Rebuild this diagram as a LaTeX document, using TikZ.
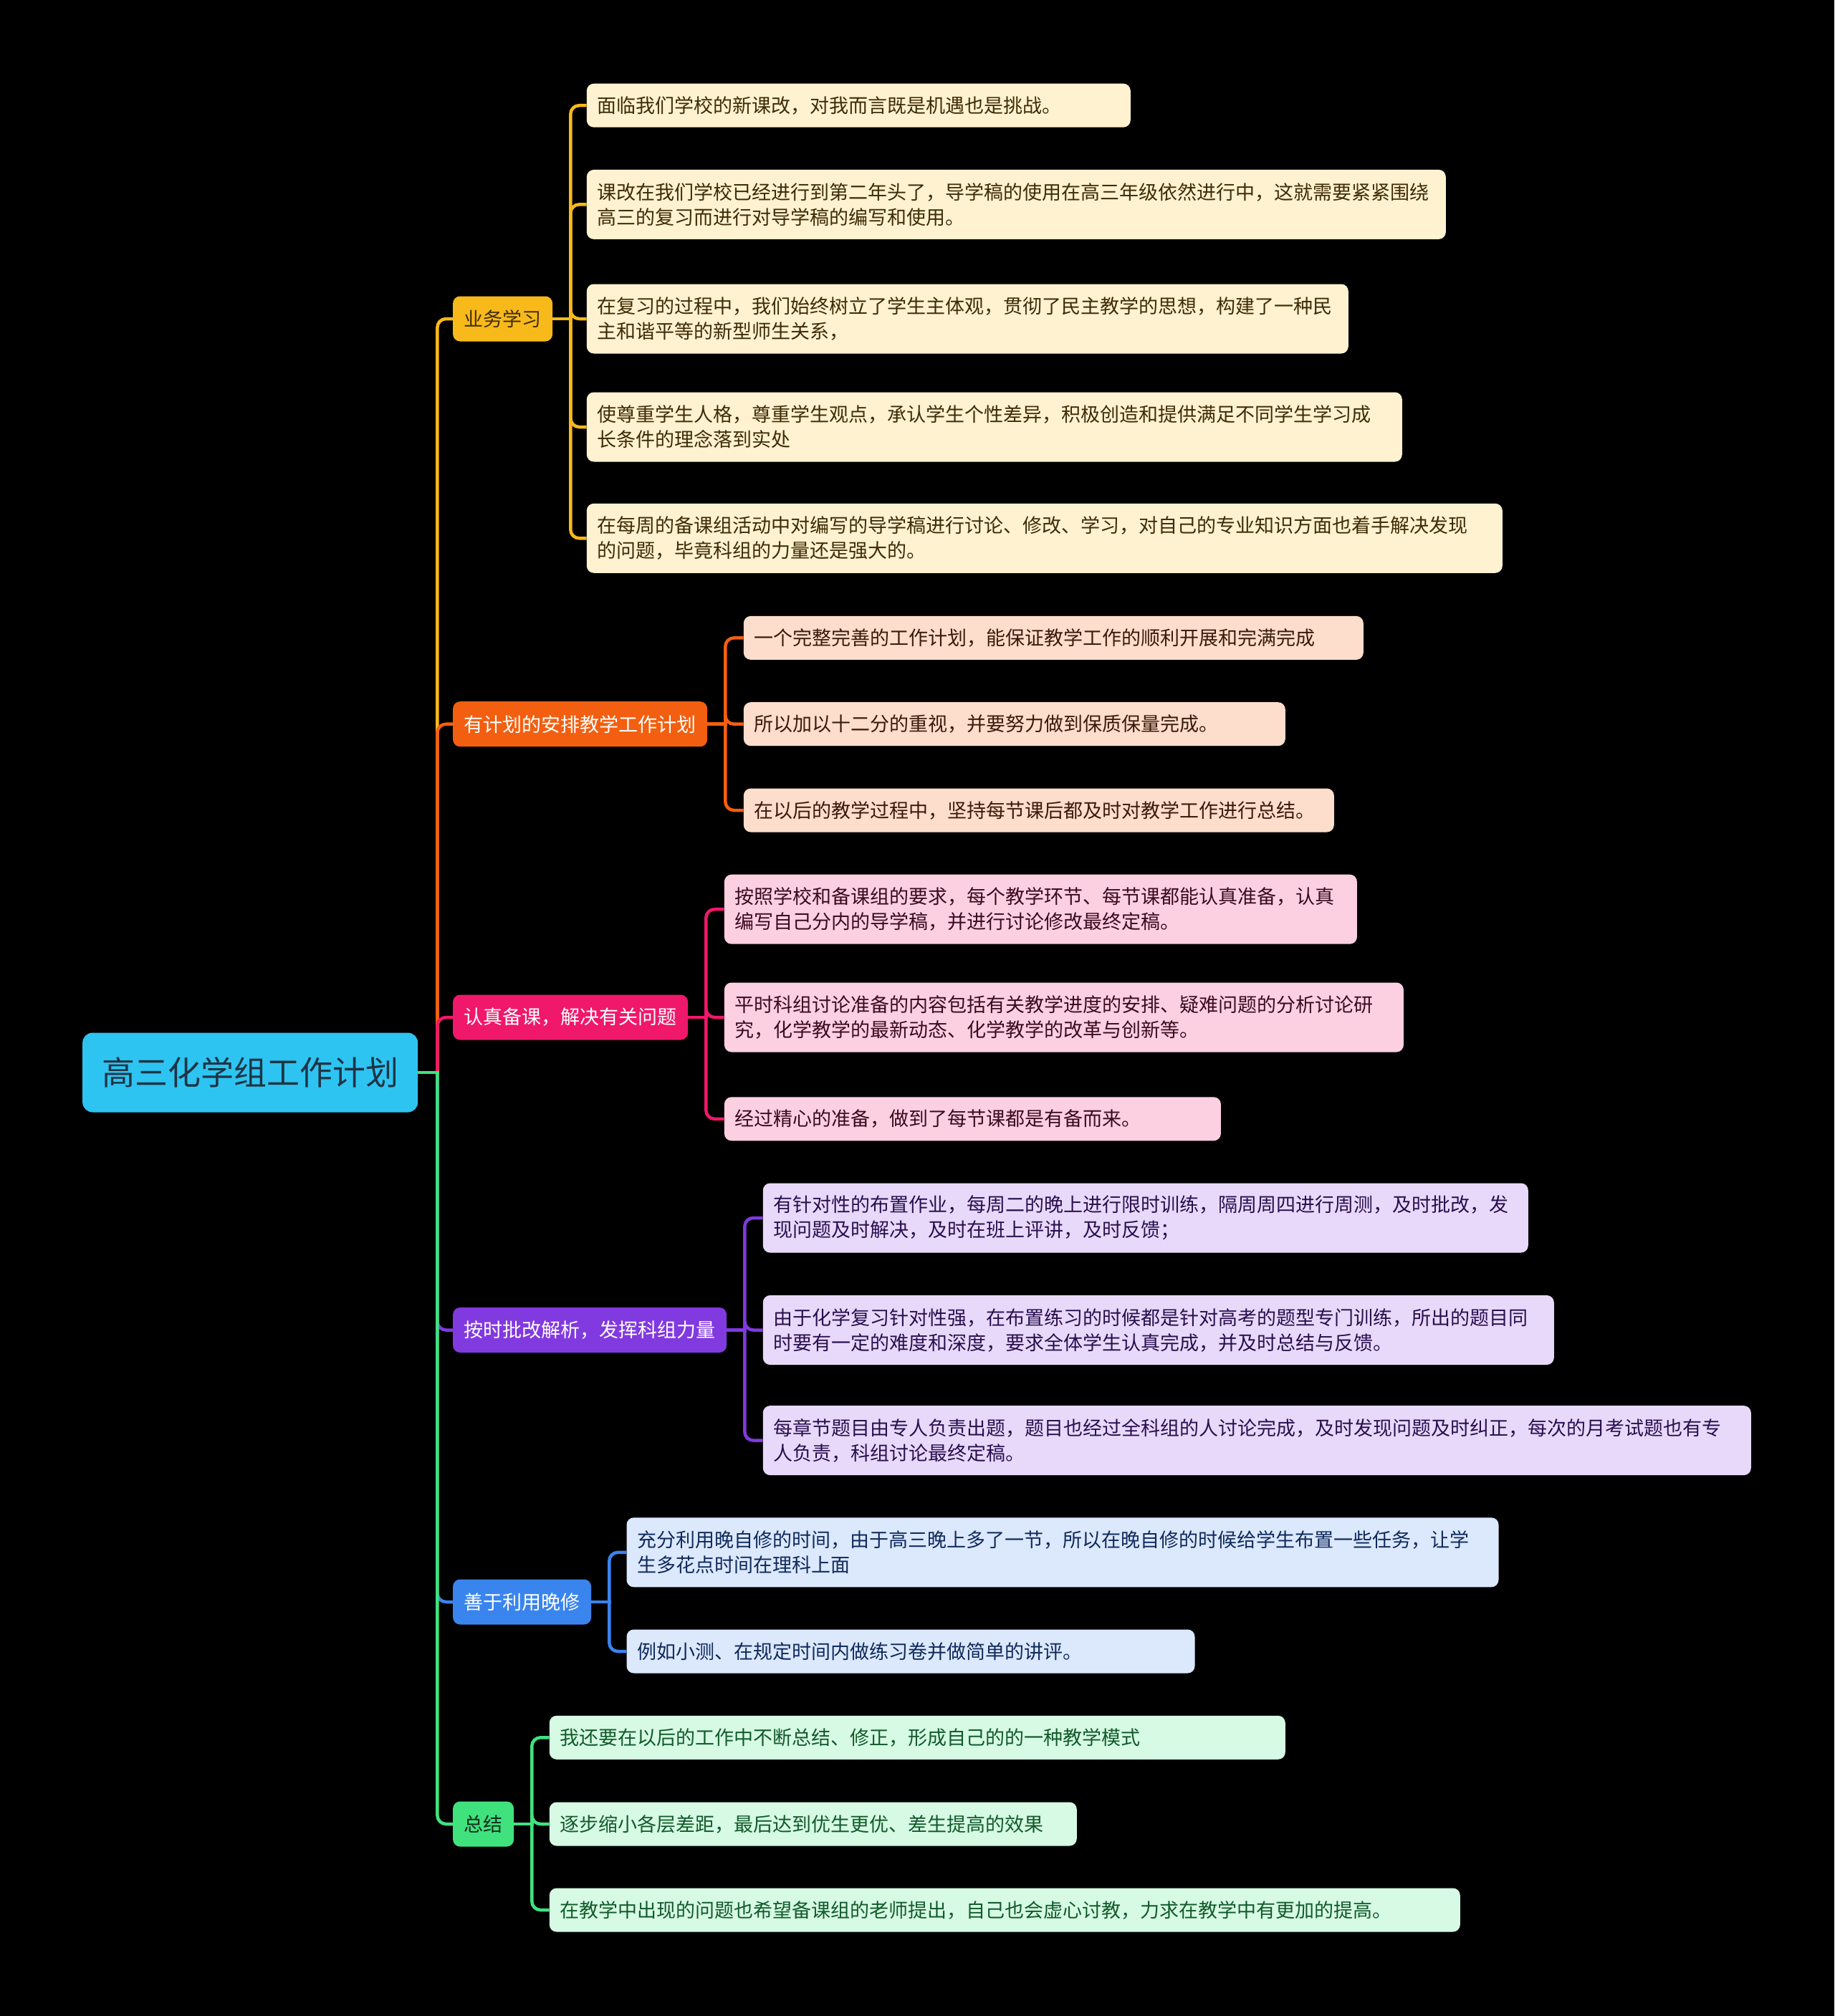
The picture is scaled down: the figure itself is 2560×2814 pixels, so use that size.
\documentclass[tikz,border=0pt]{standalone}
\usepackage{fontspec}
\setmainfont{Noto Sans CJK SC}
\usepackage{tikz}
\usetikzlibrary{calc}

\definecolor{bgc}{HTML}{000000}
\definecolor{rootfill}{HTML}{2EC4F1}
\definecolor{roottext}{HTML}{1E3444}
% branch colours
\definecolor{cA}{HTML}{F8B91A}
\definecolor{cB}{HTML}{F35F10}
\definecolor{cC}{HTML}{F0186A}
\definecolor{cD}{HTML}{8139E0}
\definecolor{cE}{HTML}{3A84EE}
\definecolor{cF}{HTML}{40E27E}
% leaf colours
\definecolor{lA}{HTML}{FEF2D0}
\definecolor{lB}{HTML}{FDDDCB}
\definecolor{lC}{HTML}{FDD0E1}
\definecolor{lD}{HTML}{E8D9FA}
\definecolor{lE}{HTML}{DCE8FC}
\definecolor{lF}{HTML}{D6FAE3}
\definecolor{tA}{HTML}{3E2C05}
\definecolor{tB}{HTML}{3A1A0A}
\definecolor{tC}{HTML}{3B0A1F}
\definecolor{tD}{HTML}{2A0F4F}
\definecolor{tE}{HTML}{0F2A5C}
\definecolor{tF}{HTML}{125A2B}

\begin{document}
\begin{tikzpicture}[
    x=1pt, y=-1pt,
    rootbox/.style={fill=rootfill, text=roottext, rounded corners=14pt, inner xsep=27pt, inner ysep=0pt,
        minimum height=111pt, font=\fontsize{46}{56}\selectfont},
    branch/.style={rounded corners=10pt, inner xsep=15.5pt, inner ysep=0pt, minimum height=63pt,
        anchor=west, font=\fontsize{27}{35}\selectfont},
    leaf/.style={rounded corners=10pt, inner xsep=15pt, inner ysep=0pt, minimum height=61pt,
        anchor=west, align=left, font=\fontsize{27}{35}\selectfont},
    two/.style={minimum height=97pt},
    link/.style={line width=4.5pt, rounded corners=12pt},
    stub/.style={line width=4.5pt}
]

\fill[bgc] (0,0) rectangle (2560,2814);
\useasboundingbox (0,0) rectangle (2560,2814);

% root
\node (root) [rootbox, anchor=west] at (115,1497) {高三化学组工作计划};
\coordinate (trunk) at (610.4,1497);

% branches
\node (b1) [branch, fill=cA, text=tA] at (631.9,445) {业务学习};
\node (b2) [branch, fill=cB, text=white] at (631.9,1010.7) {有计划的安排教学工作计划};
\node (b3) [branch, fill=cC, text=white] at (631.9,1420) {认真备课，解决有关问题};
\node (b4) [branch, fill=cD, text=white] at (631.9,1856.5) {按时批改解析，发挥科组力量};
\node (b5) [branch, fill=cE, text=white] at (631.9,2236) {善于利用晚修};
\node (b6) [branch, fill=cF, text=cF!20!black] at (631.9,2546) {总结};

% leaves of b1
\node (l11) [leaf, fill=lA, text=tA, text width=729pt] at (818.6,147.2) {面临我们学校的新课改，对我而言既是机遇也是挑战。};
\node (l12) [leaf, two, fill=lA, text=tA, text width=1169pt] at (818.6,285.4) {课改在我们学校已经进行到第二年头了，导学稿的使用在高三年级依然进行中，这就需要紧紧围绕\\高三的复习而进行对导学稿的编写和使用。};
\node (l13) [leaf, two, fill=lA, text=tA, text width=1033pt] at (818.6,445) {在复习的过程中，我们始终树立了学生主体观，贯彻了民主教学的思想，构建了一种民\\主和谐平等的新型师生关系，};
\node (l14) [leaf, two, fill=lA, text=tA, text width=1108pt] at (818.6,596) {使尊重学生人格，尊重学生观点，承认学生个性差异，积极创造和提供满足不同学生学习成\\长条件的理念落到实处};
\node (l15) [leaf, two, fill=lA, text=tA, text width=1248pt] at (818.6,751.3) {在每周的备课组活动中对编写的导学稿进行讨论、修改、学习，对自己的专业知识方面也着手解决发现\\的问题，毕竟科组的力量还是强大的。};

% leaves of b2
\node (l21) [leaf, fill=lB, text=tB, text width=835pt] at (1037.6,890.4) {一个完整完善的工作计划，能保证教学工作的顺利开展和完满完成};
\node (l22) [leaf, fill=lB, text=tB, text width=726pt] at (1037.6,1010.7) {所以加以十二分的重视，并要努力做到保质保量完成。};
\node (l23) [leaf, fill=lB, text=tB, text width=794pt] at (1037.6,1131) {在以后的教学过程中，坚持每节课后都及时对教学工作进行总结。};

% leaves of b3
\node (l31) [leaf, two, fill=lC, text=tC, text width=853pt] at (1010.7,1269.2) {按照学校和备课组的要求，每个教学环节、每节课都能认真准备，认真\\编写自己分内的导学稿，并进行讨论修改最终定稿。};
\node (l32) [leaf, two, fill=lC, text=tC, text width=918pt] at (1010.7,1420) {平时科组讨论准备的内容包括有关教学进度的安排、疑难问题的分析讨论研\\究，化学教学的最新动态、化学教学的改革与创新等。};
\node (l33) [leaf, fill=lC, text=tC, text width=663pt] at (1010.7,1561.8) {经过精心的准备，做到了每节课都是有备而来。};

% leaves of b4
\node (l41) [leaf, two, fill=lD, text=tD, text width=1038pt] at (1064.6,1700) {有针对性的布置作业，每周二的晚上进行限时训练，隔周周四进行周测，及时批改，发\\现问题及时解决，及时在班上评讲，及时反馈；};
\node (l42) [leaf, two, fill=lD, text=tD, text width=1074pt] at (1064.6,1856.5) {由于化学复习针对性强，在布置练习的时候都是针对高考的题型专门训练，所出的题目同\\时要有一定的难度和深度，要求全体学生认真完成，并及时总结与反馈。};
\node (l43) [leaf, two, fill=lD, text=tD, text width=1349pt] at (1064.6,2010.6) {每章节题目由专人负责出题，题目也经过全科组的人讨论完成，及时发现问题及时纠正，每次的月考试题也有专\\人负责，科组讨论最终定稿。};

% leaves of b5
\node (l51) [leaf, two, fill=lE, text=tE, text width=1187pt] at (874.3,2166.8) {充分利用晚自修的时间，由于高三晚上多了一节，所以在晚自修的时候给学生布置一些任务，让学\\生多花点时间在理科上面};
\node (l52) [leaf, fill=lE, text=tE, text width=763pt] at (874.3,2305) {例如小测、在规定时间内做练习卷并做简单的讲评。};

% leaves of b6
\node (l61) [leaf, fill=lF, text=tF, text width=997pt] at (766.6,2425.3) {我还要在以后的工作中不断总结、修正，形成自己的的一种教学模式};
\node (l62) [leaf, fill=lF, text=tF, text width=706pt] at (766.6,2546) {逐步缩小各层差距，最后达到优生更优、差生提高的效果};
\node (l63) [leaf, fill=lF, text=tF, text width=1241pt] at (766.6,2666) {在教学中出现的问题也希望备课组的老师提出，自己也会虚心讨教，力求在教学中有更加的提高。};

% root to branches
\draw[link, cA] (trunk) |- (b1.west);
\draw[link, cB] (trunk) |- (b2.west);
\draw[link, cC] (trunk) |- (b3.west);
\draw[link, cD] (trunk) |- (b4.west);
\draw[link, cE] (trunk) |- (b5.west);
\draw[link, cF] (trunk) |- (b6.west);
\draw[stub, cF] (root.east) -- ([xshift=2.25pt]trunk);

% branch brackets
\coordinate (j1) at ([xshift=25pt]b1.east);
\coordinate (j2) at ([xshift=25pt]b2.east);
\coordinate (j3) at ([xshift=25pt]b3.east);
\coordinate (j4) at ([xshift=25pt]b4.east);
\coordinate (j5) at ([xshift=25pt]b5.east);
\coordinate (j6) at ([xshift=25pt]b6.east);

\foreach \i in {1,...,5} {\draw[link, cA] (j1) |- (l1\i.west);}
\draw[stub, cA] (b1.east) -- ([xshift=2.25pt]j1);

\foreach \i in {1,2,3} {\draw[link, cB] (j2) |- (l2\i.west);}
\draw[stub, cB] (b2.east) -- ([xshift=2.25pt]j2);

\foreach \i in {1,2,3} {\draw[link, cC] (j3) |- (l3\i.west);}
\draw[stub, cC] (b3.east) -- ([xshift=2.25pt]j3);

\foreach \i in {1,2,3} {\draw[link, cD] (j4) |- (l4\i.west);}
\draw[stub, cD] (b4.east) -- ([xshift=2.25pt]j4);

\foreach \i in {1,2} {\draw[link, cE] (j5) |- (l5\i.west);}
\draw[stub, cE] (b5.east) -- ([xshift=2.25pt]j5);

\foreach \i in {1,2,3} {\draw[link, cF] (j6) |- (l6\i.west);}
\draw[stub, cF] (b6.east) -- ([xshift=2.25pt]j6);

\end{tikzpicture}
\end{document}
